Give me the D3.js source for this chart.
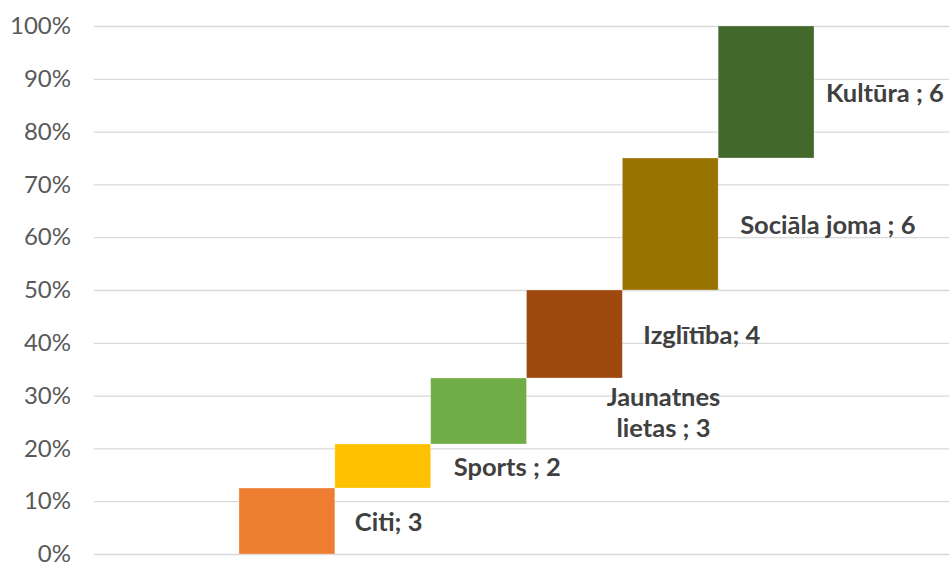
<!DOCTYPE html>
<html>
<head>
<meta charset="utf-8">
<script src="https://cdn.jsdelivr.net/npm/d3@7"></script>
<style>
  body { margin: 0; background: #fff; }
  svg { display: block; }
</style>
</head>
<body>
<div id="chart"></div>
<script>
// data
const categories = ["Citi", "Sports", "Jaunatnes lietas", "Izglītība", "Sociāla joma", "Kultūra"];
const values = [3, 2, 3, 4, 6, 6];
const labels = [["Citi; 3"], ["Sports ; 2"], ["Jaunatnes", "lietas ; 3"], ["Izglītība; 4"], ["Sociāla joma ; 6"], ["Kultūra ; 6"]];
const colors = ["#ED7D31", "#FFC000", "#70AD47", "#9E480E", "#997300", "#43682B"];
const yTicks = [0, 0.1, 0.2, 0.3, 0.4, 0.5, 0.6, 0.7, 0.8, 0.9, 1];

// label placement relative to the bar's right edge (manual, like in the original)
const labelDx = { "Citi": 20, "Sports": 23, "Jaunatnes lietas": 137, "Izglītība": 21, "Sociāla joma": 22, "Kultūra": 12 };

const width = 949, height = 563;
const svg = d3.select("#chart").append("svg")
    .attr("width", width)
    .attr("height", height);

const total = d3.sum(values);
let acc = 0;
const rows = categories.map((c, i) => {
    const r = { cat: c, start: acc / total, end: (acc + values[i]) / total, label: labels[i], color: colors[i] };
    acc += values[i];
    return r;
});

const x = d3.scaleBand()
    .domain(categories)
    .range([239, 814])
    .padding(0);

const y = d3.scaleLinear()
    .domain([0, 1])
    .range([554, 26]);

// gridlines + tick labels
const yAxis = svg.append("g")
    .attr("transform", "translate(94,0)")
    .call(d3.axisLeft(y).tickValues(yTicks).tickSize(-(width - 94)).tickFormat(d3.format(".0%")));
yAxis.select(".domain").remove();
yAxis.selectAll(".tick line").attr("stroke", "#d9d9d9").attr("stroke-width", 1.3);
yAxis.selectAll(".tick text")
    .attr("x", -23)
    .attr("fill", "#595959")
    .style("font-family", "Lato, 'Open Sans', sans-serif")
    .style("font-size", "24px");

// bars
svg.selectAll(".bar")
    .data(rows)
    .enter().append("rect")
    .attr("class", "bar")
    .attr("x", d => x(d.cat))
    .attr("y", d => y(d.end))
    .attr("width", x.bandwidth())
    .attr("height", d => y(d.start) - y(d.end))
    .attr("fill", d => d.color)
    .attr("stroke", "#ffffff")
    .attr("stroke-opacity", 0.35)
    .attr("stroke-width", 0.8);

// data labels
const lab = svg.selectAll(".lbl")
    .data(rows)
    .enter().append("text")
    .attr("class", "lbl")
    .attr("fill", "#404040")
    .style("font-family", "Lato, 'Open Sans', sans-serif")
    .style("font-weight", "bold")
    .style("font-size", "25.5px")
    .attr("text-anchor", d => d.label.length > 1 ? "middle" : "start")
    .attr("transform", d => {
        const lx = x(d.cat) + x.bandwidth() + labelDx[d.cat];
        const ly = y((d.start + d.end) / 2) + 10 - (d.label.length - 1) * 15.5;
        return `translate(${lx},${ly})`;
    });

lab.selectAll("tspan")
    .data(d => d.label)
    .enter().append("tspan")
    .attr("x", 0)
    .attr("y", (d, i) => i * 31)
    .text(d => d);
</script>
</body>
</html>
